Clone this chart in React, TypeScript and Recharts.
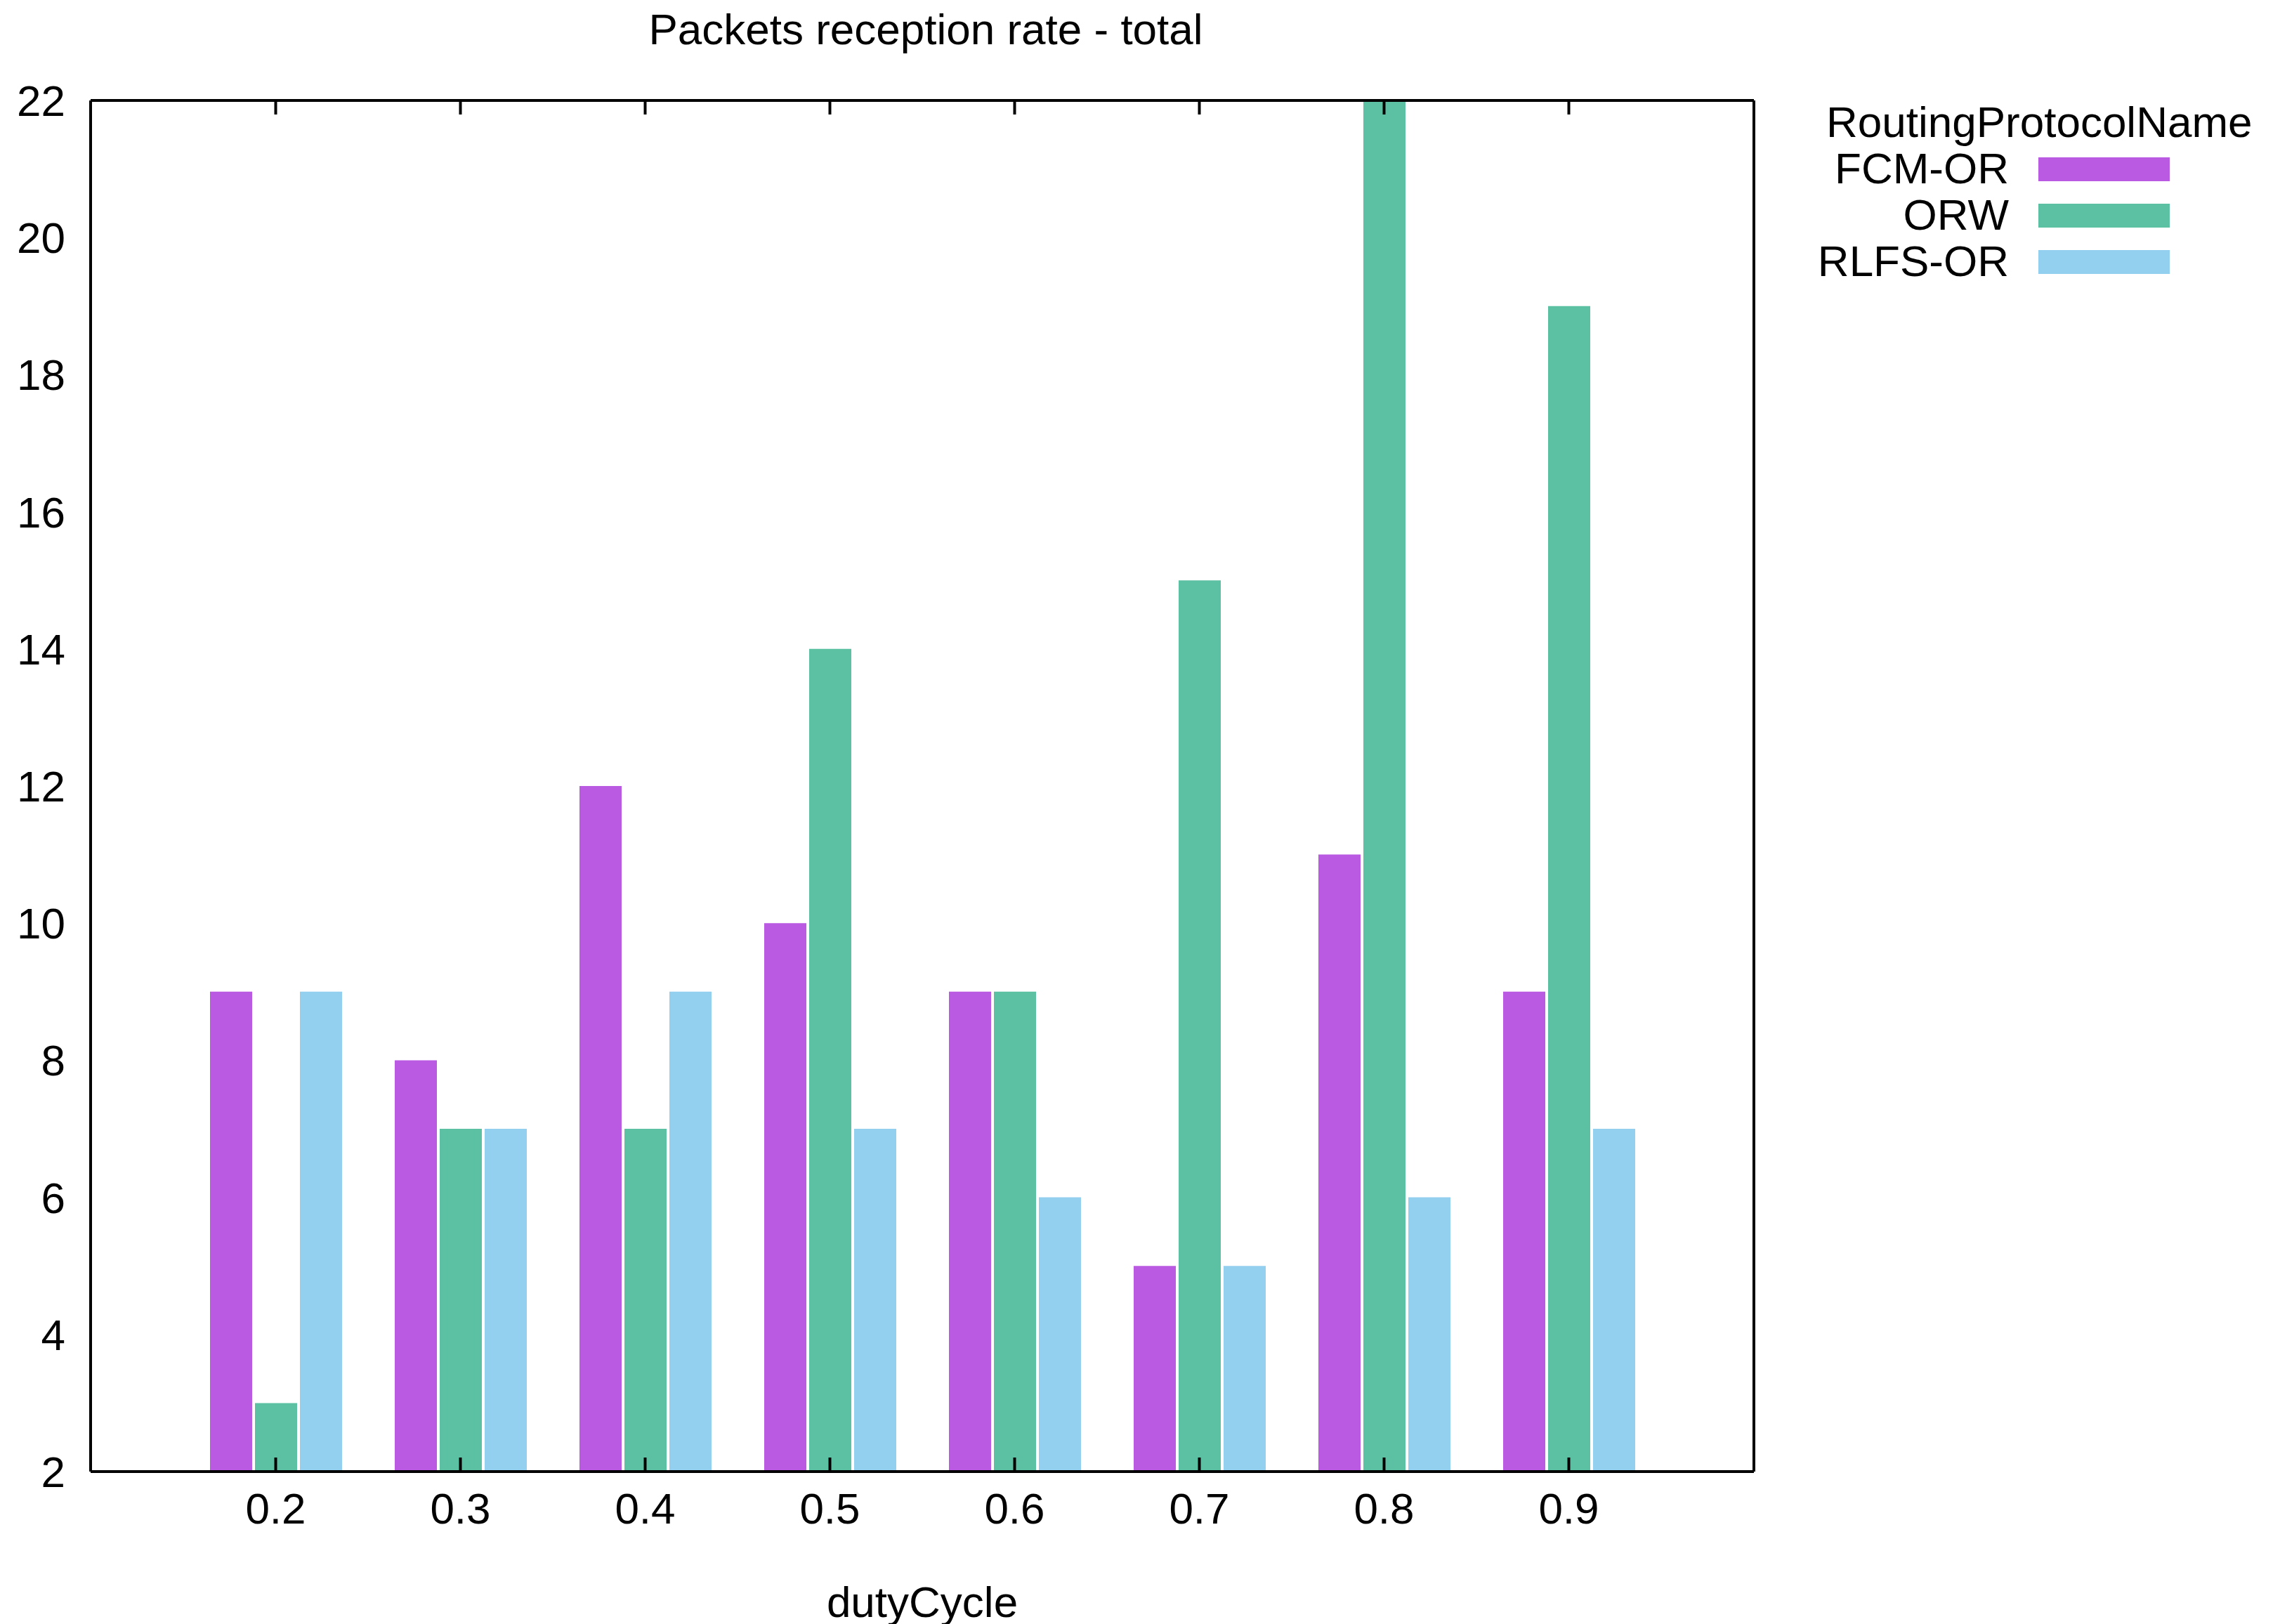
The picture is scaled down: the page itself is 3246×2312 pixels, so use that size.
import React from 'react';
import { Bar, BarChart, XAxis, YAxis } from 'recharts';

const dutyCycles = ['0.2', '0.3', '0.4', '0.5', '0.6', '0.7', '0.8', '0.9'];
const fcmOr = [9, 8, 12, 10, 9, 5, 11, 9];
const orw = [3, 7, 7, 14, 9, 15, 22, 19];
const rlfsOr = [9, 7, 9, 7, 6, 5, 6, 7];
const yTicks = [2, 4, 6, 8, 10, 12, 14, 16, 18, 20, 22];

const series = [
  { key: 'fcm', name: 'FCM-OR', color: '#ba5ae2' },
  { key: 'orw', name: 'ORW', color: '#5bc1a2' },
  { key: 'rlfs', name: 'RLFS-OR', color: '#93cfef' },
];

const data = dutyCycles.map((d, i) => ({ d, fcm: fcmOr[i], orw: orw[i], rlfs: rlfsOr[i] }));

const font = 'Liberation Sans, Arial, sans-serif';
const fs = 62;
const tickStyle = { fill: '#000', fontSize: fs, fontFamily: font };
const hidden = { fill: 'none' };
const pad = { left: 132, right: 132 };

const App = () => (
  <div style={{ position: 'absolute', left: 0, top: 0, width: 3246, height: 2312, background: '#fff' }}>
    <div style={{ position: 'absolute', left: 0, width: 2636, top: 6, textAlign: 'center', fontFamily: font, fontSize: fs }}>
      Packets reception rate - total
    </div>
    <BarChart
      width={3246}
      height={2312}
      data={data}
      margin={{ top: 143, right: 749, bottom: 0, left: 0 }}
      barSize={60}
      barGap={4}
    >
      <XAxis
        dataKey="d"
        height={217}
        padding={pad}
        stroke="#000"
        strokeWidth={4}
        tickLine={false}
        tickMargin={24}
        tick={tickStyle}
        label={{ value: 'dutyCycle', position: 'insideBottom', offset: 10, style: tickStyle }}
      />
      <XAxis xAxisId="bm" dataKey="d" mirror padding={pad} axisLine={false} tickSize={20} tick={hidden} stroke="#000" strokeWidth={4} />
      <XAxis xAxisId="t" dataKey="d" orientation="top" mirror padding={pad} tickSize={20} tick={hidden} stroke="#000" strokeWidth={4} />
      <YAxis
        width={129}
        domain={[2, 22]}
        ticks={yTicks}
        allowDataOverflow
        stroke="#000"
        strokeWidth={4}
        tickLine={false}
        tickMargin={30}
        tick={tickStyle}
      />
      <YAxis yAxisId="lm" mirror domain={[2, 22]} ticks={yTicks} axisLine={false} tickSize={20} tick={hidden} stroke="#000" strokeWidth={4} />
      <YAxis yAxisId="r" orientation="right" mirror domain={[2, 22]} ticks={yTicks} tickSize={20} tick={hidden} stroke="#000" strokeWidth={4} />
      {series.map((s) => (
        <Bar key={s.key} dataKey={s.key} name={s.name} fill={s.color} isAnimationActive={false} />
      ))}
    </BarChart>
    <div style={{ position: 'absolute', left: 2600, top: 138, fontFamily: font, fontSize: fs }}>RoutingProtocolName</div>
    {series.map((s, i) => (
      <div key={s.key} style={{ position: 'absolute', top: 204 + i * 66, left: 2460, width: 400, textAlign: 'right', fontFamily: font, fontSize: fs, lineHeight: '72px' }}>
        {s.name}
        <div style={{ position: 'absolute', left: 442, top: 20, width: 187, height: 34, background: s.color }} />
      </div>
    ))}
  </div>
);

export default App;
